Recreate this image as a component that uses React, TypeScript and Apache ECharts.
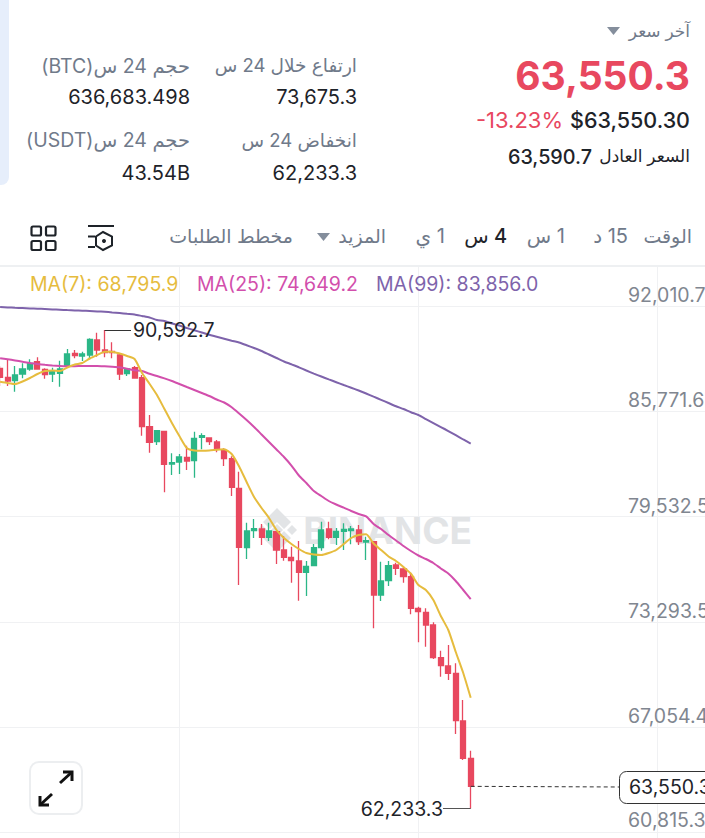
import React, { useEffect, useRef } from "react";
import * as echarts from "echarts";

const slotLabels: string[] = Array.from({ length: 95 }, (_, i) => String(i));
const opens = [88320,87786,87585,87982,88278,88711,88260,87982,88023,88474,89208,89048,89108,89996,89404,89326,89108,88000,88355,87762,84859,83970,84587,82649,82768,83046,82845,84231,84190,83952,83437,82963,81209,77690,78697,78798,78306,78638,77554,77121,76902,76232,76623,77690,78798,78306,78661,78697,78738,78027,78046,74887,75735,76665,76428,75972,74099,73862,73110,71172,70681,70248,67422,65212];
const closes = [87786,87567,87922,88278,88615,88278,87940,88118,88278,89166,89066,89166,90038,89404,89244,89244,87982,88278,87745,84859,83935,84622,82631,82726,83064,82827,84172,84326,83970,83538,82963,81268,77713,78680,78815,78306,78680,77554,77121,76920,76232,76588,77690,78738,78306,78661,78780,78798,78046,78104,74887,75717,76623,76470,75972,74099,73898,73110,71172,70698,70248,67440,65212,63550.3];
const lows = [87270,87271,86933,87727,88177,88260,87703,87508,87229,88456,88912,88752,88852,89007,88971,88912,87626,87863,87703,84326,83318,83775,80972,81997,82057,82294,81838,83520,83775,83342,82531,80753,75480,77020,78264,77850,78087,76724,76920,75616,74550,74828,76606,77512,78188,77850,77554,77891,77850,76961,72914,74532,75421,76072,75616,73743,72085,71824,71095,70047,69851,66652,65111,62233.3];
const highs = [88456,88811,88456,88615,88852,88971,88320,88355,88770,89463,89404,89303,90097,90429,90592.7,89860,89208,88320,88456,87922,85552,84664,84622,83283,83241,83733,84563,84468,84231,84071,83579,83105,82193,79171,79390,79094,79171,78680,78383,77749,78087,76902,77909,79230,79230,78857,79135,78976,79035,78342,78087,76860,76902,76802,76564,76209,74194,74099,73270,71587,71925,70841,68666,65662];
const ma7 = [87525,87448,87389,87537,87745,87982,88159,88189,88159,88367,88544,88633,88900,89108,89303,89303,89196,89048,88870,88041,87407,86737,85908,85078,84308,83597,83449,83437,83449,83490,83520,83242,82501,81583,80694,80042,79450,78738,78264,77909,77613,77376,77287,77257,77376,77554,77909,78264,78442,78490,77939,77554,77169,76902,76546,76149,75480,75184,74591,73643,72814,71510,70266,68795.9];
const ma25 = [88912,88853,88787,88710,88627,88574,88527,88485,88456,88444,88444,88456,88456,88456,88438,88414,88379,88296,88207,88159,87993,87863,87721,87567,87389,87211,87034,86856,86678,86471,86293,86009,85641,85256,84841,84397,83953,83508,83064,82560,81968,81523,81049,80753,80457,80250,80060,79864,79687,79550,79094,78798,78442,78116,77791,77494,77228,77020,76783,76457,76161,75717,75184,74649.2];
const ma99 = [91951,91928,91904,91886,91863,91851,91833,91809,91791,91768,91750,91732,91714,91691,91667,91631,91596,91549,91507,91418,91329,91181,91122,90974,90855,90707,90571,90440,90304,90192,90073,89955,89848,89688,89522,89344,89137,88930,88722,88556,88379,88189,88005,87833,87662,87496,87330,87170,87004,86826,86637,86453,86263,86074,85908,85718,85552,85315,85078,84841,84604,84356,84101,83856.0];
const priceTicks = [92010.7, 85771.6, 79532.5, 73293.5, 67054.4, 60815.3];
const lastPrice = 63550.3;
const highPrice = 90592.7;
const lowPrice = 62233.3;

const RED = "#E8485F";
const GREEN = "#2BB787";
const GOLD = "#E6BC3E";
const PINK = "#D24FAC";
const PURPLE = "#7E63AB";
const GRAY = "#707A8A";
const INK = "#1E2329";
const LATIN = "Inter, 'DejaVu Sans', sans-serif";

const rtl = (s: string) => "\u202B" + s + "\u202C";
const fmt = (v: number) => v.toLocaleString("en-US", { minimumFractionDigits: 1, maximumFractionDigits: 1 });

function txt(text: string, x: number, y: number, size: number, fill: string, align = "right", weight: any = 400): any {
  return {
    type: "text", x, y, z: 100,
    style: { text, fill, fontSize: size, fontWeight: weight, fontFamily: LATIN, align, textAlign: align, verticalAlign: "middle", textVerticalAlign: "middle" },
  };
}
const stroke = (color: string, lineWidth: number) => ({ stroke: color, lineWidth, fill: "none" });

export default function App() {
  const ref = useRef<HTMLDivElement>(null);
  useEffect(() => {
    document.body.style.margin = "0";
    document.body.style.background = "#fff";
    const chart = echarts.init(ref.current!, undefined, { renderer: "svg" });
    const candles = opens.map((o, i) => [o, closes[i], lows[i], highs[i]]);
    const graphics: any[] = [
      // side panel
      { type: "rect", shape: { x: -12, y: -12, width: 21, height: 197, r: 8 }, style: { fill: "#E6EEFB" }, z: 100 },
      txt(rtl("آخر سعر"), 690, 31, 17, GRAY),
      { type: "polygon", shape: { points: [[607, 27], [620, 27], [613.5, 35]] }, style: { fill: "#848E9C" }, z: 100 },
      txt("63,550.3", 690, 75, 39, RED, "right", 700),
      txt("$63,550.30", 690, 120, 21.5, INK, "right", 500),
      txt("-13.23%", 563, 120, 22, RED, "right", 400),
      txt(rtl("السعر العادل"), 690, 156, 17, INK),
      txt("63,590.7", 592, 157, 19.8, INK, "right", 500),
      txt(rtl("ارتفاع خلال 24 س"), 357, 65, 18.5, GRAY),
      txt("73,675.3", 357, 97, 20, INK),
      txt(rtl("انخفاض 24 س"), 357, 140, 18.5, GRAY),
      txt("62,233.3", 357, 173, 20, INK),
      txt(rtl("حجم 24 س(BTC)"), 190, 66, 19.5, GRAY),
      txt("636,683.498", 190, 97, 20, INK),
      txt(rtl("حجم 24 س(USDT)"), 190, 140, 19.5, GRAY),
      txt("43.54B", 190, 173, 20, INK),
      // toolbar
      txt(rtl("الوقت"), 692, 236, 19, GRAY),
      txt(rtl("15 د"), 628, 236, 20, GRAY),
      txt(rtl("1 س"), 565, 236, 20, GRAY),
      txt(rtl("4 س"), 507, 236, 20, INK, "right", 500),
      txt(rtl("1 ي"), 445, 236, 20, GRAY),
      txt(rtl("المزيد"), 386, 236, 19, GRAY),
      { type: "polygon", shape: { points: [[317, 233], [330, 233], [323.5, 241]] }, style: { fill: "#848E9C" }, z: 100 },
      txt(rtl("مخطط الطلبات"), 293, 236, 19, GRAY),
      // grid icon
      ...[[31.5, 226.5], [46, 226.5], [31.5, 241], [46, 241]].map(([x, y]) => ({ type: "rect", shape: { x, y, width: 9.5, height: 9, r: 1.5 }, style: stroke(INK, 2.2), z: 100 })),
      // depth icon
      { type: "line", shape: { x1: 88, y1: 226, x2: 114, y2: 226 }, style: stroke(INK, 2), z: 100 },
      { type: "line", shape: { x1: 88, y1: 236.5, x2: 95, y2: 236.5 }, style: stroke(INK, 2), z: 100 },
      { type: "line", shape: { x1: 88, y1: 247, x2: 95, y2: 247 }, style: stroke(INK, 2), z: 100 },
      { type: "polygon", shape: { points: [[103, 232], [112, 236.5], [112, 245.5], [103, 250], [96, 245.5], [96, 236.5]] }, style: stroke(INK, 2), z: 100 },
      { type: "circle", shape: { cx: 104, cy: 241, r: 2 }, style: { fill: INK }, z: 100 },
      // frame above plot
      { type: "line", shape: { x1: 0, y1: 266, x2: 705, y2: 266 }, style: stroke("#EEF0F2", 2), z: 1 },
      // legend
      txt("MA(7): 68,795.9", 30, 284, 19.5, GOLD, "left"),
      txt("MA(25): 74,649.2", 197, 284, 19.5, PINK, "left"),
      txt("MA(99): 83,856.0", 376, 284, 19.5, PURPLE, "left"),
      // watermark
      { type: "polygon", shape: { points: [[277, 508], [291, 522], [284, 529], [277, 522], [270, 529], [263, 522]] }, style: { fill: "#E2E4E6" }, z: 1 },
      { type: "polygon", shape: { points: [[277, 524], [283, 530], [277, 536], [271, 530]] }, style: { fill: "#E2E4E6" }, z: 1 },
      { type: "polygon", shape: { points: [[262, 525], [267, 530], [262, 535], [257, 530]] }, style: { fill: "#E2E4E6" }, z: 1 },
      { type: "polygon", shape: { points: [[292, 525], [297, 530], [292, 535], [287, 530]] }, style: { fill: "#E2E4E6" }, z: 1 },
      { type: "polygon", shape: { points: [[270, 531], [277, 538], [284, 531], [291, 538], [277, 552], [263, 538]] }, style: { fill: "#E2E4E6" }, z: 1 },
      { type: "text", x: 472, y: 530, z: 1, style: { text: "BINANCE", fill: "#E2E4E6", fontSize: 37, fontWeight: 700, fontFamily: LATIN, align: "right", textAlign: "right", verticalAlign: "middle", textVerticalAlign: "middle" } },
      // expand button
      { type: "rect", shape: { x: 30, y: 762, width: 52, height: 52, r: 9 }, style: { fill: "#fff", stroke: "#ECEEF0", lineWidth: 2 }, z: 100 },
      { type: "polyline", shape: { points: [[60, 783], [72, 772]] }, style: stroke("#111", 3), z: 101 },
      { type: "polyline", shape: { points: [[63, 772], [72, 772], [72, 781]] }, style: stroke("#111", 3), z: 101 },
      { type: "polyline", shape: { points: [[52, 794], [40, 805]] }, style: stroke("#111", 3), z: 101 },
      { type: "polyline", shape: { points: [[40, 796], [40, 805], [49, 805]] }, style: stroke("#111", 3), z: 101 },
      // price tag
      { type: "rect", shape: { x: 619.5, y: 771.5, width: 100, height: 32, r: 7 }, style: { fill: "#fff", stroke: "#333", lineWidth: 1 }, z: 100 },
      txt(fmt(lastPrice), 629, 787, 19.5, INK, "left"),
    ];
    const lineSeries = (name: string, data: number[], color: string) => ({
      name, type: "line", data, symbol: "none", smooth: 0.2, z: 4,
      lineStyle: { color, width: 2 }, itemStyle: { color },
    });
    const tickStyle = { color: "#808690", fontSize: 19.5, fontFamily: LATIN };
    const option: any = {
      animation: false,
      backgroundColor: "#fff",
      grid: { left: -3.635, top: 266, width: 709.65, height: 572, containLabel: false, outerBoundsMode: "none" },
      xAxis: {
        type: "category", data: slotLabels, boundaryGap: true,
        axisLine: { show: false }, axisTick: { show: false }, axisLabel: { show: false },
        splitLine: { show: true, alignWithLabel: true, interval: (i: number) => i % 32 === 24, lineStyle: { color: "#F0F1F3", width: 1 } },
      },
      yAxis: {
        type: "value", position: "right", min: 60489.7, max: 94380.7, scale: true,
        axisLine: { show: false },
        axisTick: { show: false, customValues: priceTicks },
        axisLabel: {
          inside: true, margin: 78, align: "left", verticalAlign: "bottom", customValues: priceTicks,
          ...tickStyle,
          formatter: (v: number) => (v === 60815.3 ? "{last|" + fmt(v) + "}" : "{tick|" + fmt(v) + "}"),
          rich: {
            tick: { ...tickStyle, padding: [0, 0, 1, 0] },
            last: { ...tickStyle, padding: [0, 0, 3, 0] },
          },
        },
        splitLine: { show: true, customValues: priceTicks, lineStyle: { color: "#F0F1F3", width: 1 } },
      },
      graphic: graphics,
      series: [
        {
          name: "BTCUSDT", type: "candlestick", data: candles, barWidth: 5.6, z: 3,
          itemStyle: { color: GREEN, color0: RED, borderColor: GREEN, borderColor0: RED, borderWidth: 1.3 },
          markLine: {
            symbol: "none", silent: true, z: 5, animation: false,
            lineStyle: { color: "#444", width: 1, type: "solid" },
            data: [
              [{ coord: ["14", highPrice], lineStyle: { color: "#333", type: "solid", width: 1 }, label: { show: true, position: "end", formatter: fmt(highPrice), color: INK, fontSize: 19.5, fontFamily: LATIN, distance: 2 } }, { x: 131, y: 330 }],
              [{ coord: ["63", lowPrice], lineStyle: { color: "#555", type: "solid", width: 1 }, label: { show: true, position: "end", formatter: fmt(lowPrice), color: INK, fontSize: 19.5, fontFamily: LATIN, distance: 0 } }, { x: 443, y: 808.5 }],
              [{ coord: ["63", lastPrice], lineStyle: { color: "#333", type: [4, 3], width: 1 }, label: { show: false } }, { x: 619, y: 787 }],
            ],
          },
        },
        lineSeries("MA(99)", ma99, PURPLE),
        lineSeries("MA(25)", ma25, PINK),
        lineSeries("MA(7)", ma7, GOLD),
      ],
    };
    chart.setOption(option);
    return () => chart.dispose();
  }, []);
  return <div ref={ref} style={{ position: "absolute", left: 0, top: 0, width: 705, height: 838, overflow: "hidden" }} />;
}
